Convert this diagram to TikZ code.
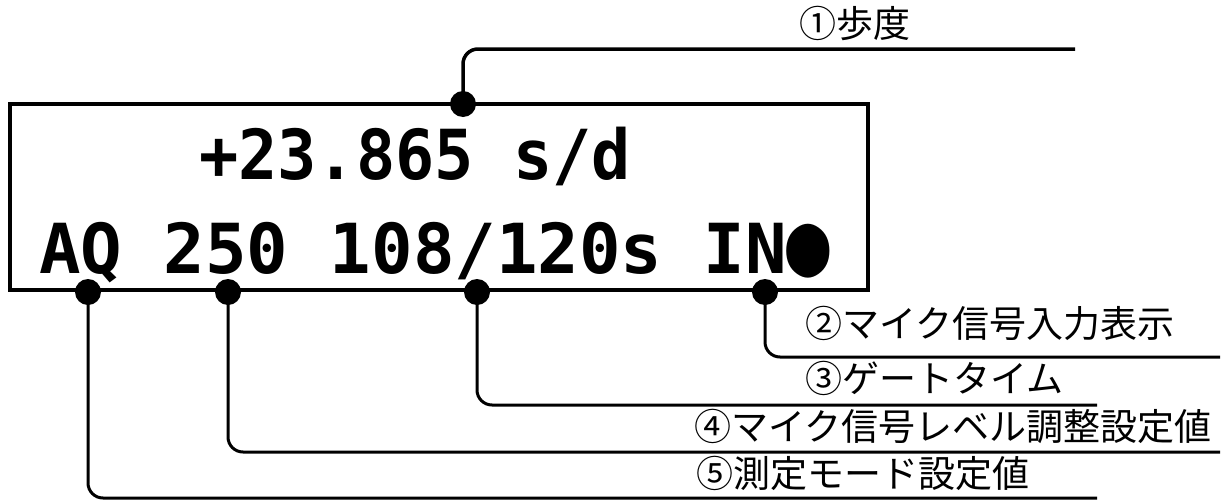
\documentclass[tikz,border=0pt]{standalone}
\usepackage{fontspec}
\newfontfamily\jp{Noto Sans CJK JP}
\newfontfamily\lcd{DejaVu Sans Mono}[BoldFont={DejaVu Sans Mono Bold}]
\begin{document}
\begin{tikzpicture}[x=1pt,y=-1pt,
  lbl/.style={anchor=base west,inner sep=0pt,font=\jp\fontsize{37}{40}\selectfont},
  lcdtxt/.style={anchor=base west,inner sep=0pt,font=\lcd\bfseries\fontsize{69}{72}\selectfont},
  conn/.style={line width=3pt,rounded corners=15pt},
  dotn/.style={circle,fill=black,inner sep=0pt,minimum width=24pt,minimum height=26pt}]
\useasboundingbox (0,0) rectangle (1227,501);
% display box
\draw[line width=4.5pt] (10,104) rectangle (868,290);
\node[lcdtxt,xscale=0.945] (l1) at (199,179) {+23.865 s/d};
\node[lcdtxt] (l2) at (39,273) {AQ 250 108/120s IN\raisebox{-1pt}{\scalebox{1.05}[1.3]{●}}};
% anchor points
\coordinate (p1) at (463,104);
\coordinate (p2) at (765,292);
\coordinate (p3) at (477,292);
\coordinate (p4) at (228,292);
\coordinate (p5) at (88,292);
\coordinate (e1) at (1075,49);
\coordinate (e2) at (1220,357);
\coordinate (e3) at (1097,405);
\coordinate (e4) at (1220,452);
\coordinate (e5) at (1097,498);
% connectors
\draw[conn,line width=3.5pt] (p1) |- (e1);
\draw[conn] (p2) |- (e2);
\draw[conn] (p3) |- (e3);
\draw[conn] (p4) |- (e4);
\draw[conn] (p5) |- (e5);
% dots
\node[dotn] (d1) at (p1) {};
\node[dotn] (d2) at (p2) {};
\node[dotn] (d3) at (p3) {};
\node[dotn] (d4) at (p4) {};
\node[dotn] (d5) at (p5) {};
% labels
\node[lbl] (t1) at (799,37) {①歩度};
\node[lbl] (t2) at (805,337) {②マイク信号入力表示};
\node[lbl] (t3) at (805,392) {③ゲートタイム};
\node[lbl] (t4) at (694,440) {④マイク信号レベル調整設定値};
\node[lbl] (t5) at (696,487) {⑤測定モード設定値};
\end{tikzpicture}
\end{document}
